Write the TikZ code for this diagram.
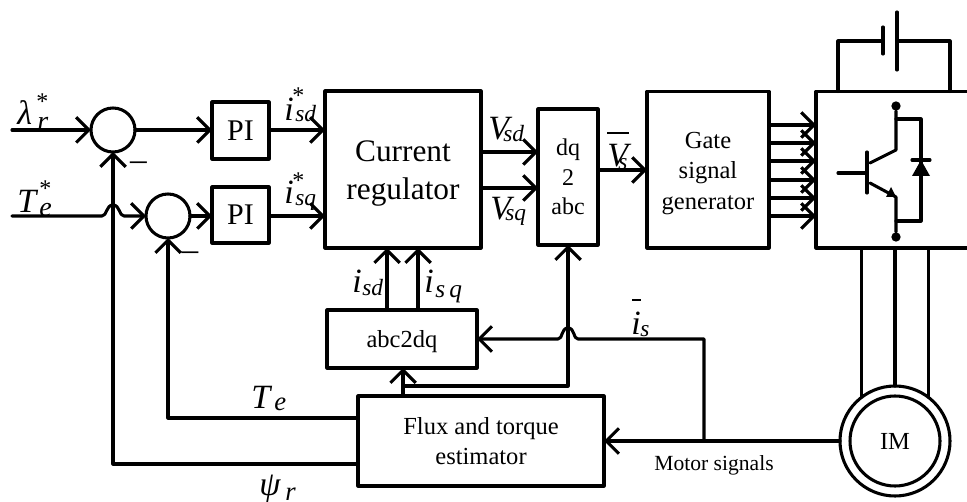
\documentclass[tikz,border=0pt]{standalone}
\usepackage{fontspec}
\setmainfont{Liberation Serif}
\usetikzlibrary{arrows.meta}
\newcommand{\fs}[2]{\fontsize{#1}{#2}\selectfont}
\tikzset{
  wire/.style={line width=2.3pt,line cap=round,line join=round},
  arr/.style={wire,-{Straight Barb[length=9.5pt,width=19pt,line width=2.3pt]}},
  blk/.style={draw,line width=2.3pt,rectangle,inner sep=0pt,outer sep=0pt,align=center,line join=round},
  sumc/.style={draw,line width=2.3pt,circle,inner sep=0pt,outer sep=0pt,minimum size=33pt},
  tlab/.style={inner sep=0pt,align=center},
  tsmall/.style={font=\fs{18.4}{21.5}},
  tbig/.style={font=\fs{23.5}{28.5}},
  tpi/.style={font=\fs{22.5}{26}},
  mainsym/.style={anchor=base west,inner sep=0pt,font=\fs{25.5}{30}\itshape},
  subsym/.style={anchor=base west,inner sep=0pt,font=\fs{17.5}{20}\itshape},
  starsym/.style={anchor=base west,inner sep=0pt,font=\fs{18}{22}},
  bar/.style={line width=1.1pt}
}
\begin{document}
\begin{tikzpicture}[x=0.75pt,y=-0.75pt]
\useasboundingbox (0,0) rectangle (967,502);
% blocks
\node[sumc] (s1) at (113,130) {};
\node[sumc] (s2) at (168,216) {};
\node[blk,tpi,minimum width=42.75pt,minimum height=42.75pt] (pi1) at (240.5,130.5) {PI};
\node[blk,tpi,minimum width=42.75pt,minimum height=42pt] (pi2) at (240.5,215) {PI};
\node[blk,minimum width=117pt,minimum height=117.75pt] (cr) at (403,169.5) {};
\node[tlab,tbig] (crt) at (403,173.5) {Current\\regulator};
\node[blk,font=\fs{18}{22},minimum width=45pt,minimum height=102pt] (dq) at (568,177) {dq\\2\\abc};
\node[blk,minimum width=91.5pt,minimum height=117.4pt] (gate) at (708,169.75) {};
\node[tlab,font=\fs{18.4}{22.9}] (gatet) at (708,173.5) {Gate\\signal\\generator};
\node[blk,minimum width=115.5pt,minimum height=117.4pt] (inv) at (893,169.75) {};
\node[blk,minimum width=112.5pt,minimum height=43.5pt] (abc) at (402,339) {};
\node[tlab,tsmall] (abct) at (402,342) {abc2dq};
\node[blk,font=\fs{18.4}{23},minimum width=184.5pt,minimum height=67.5pt] (flux) at (481,441) {Flux and torque\\estimator};
\node[draw,line width=2.3pt,circle,inner sep=0pt,outer sep=0pt,minimum size=82.5pt] (imo) at (895,441) {};
\node[draw,line width=2.3pt,circle,inner sep=0pt,outer sep=0pt,minimum size=67.5pt,tsmall] (imi) at (895,441) {IM};
% helper coordinates
\coordinate (in1) at (12,130);
\coordinate (in2) at (12,216);
\coordinate (b1a) at (102,216);
\coordinate (b1t) at (113,205);
\coordinate (b1b) at (124,216);
\coordinate (ysd) at (0,152);
\coordinate (ysq) at (0,188);
\coordinate (yvs) at (0,170);
\coordinate (ytel) at (0,418);
\coordinate (ypsi) at (0,464);
\coordinate (junc) at (704,441);
\coordinate (jtop) at (704,339);
\coordinate (b2b) at (578,339);
\coordinate (b2t) at (568,328);
\coordinate (b2a) at (558,339);
\coordinate (y3) at (0,386);
% input lines and forward path
\draw[arr] (in1) -- (s1.west);
\draw[arr] (in2) -- (b1a) .. controls +(5,0) and +(-7,0) .. (b1t) .. controls +(7,0) and +(-5,0) .. (b1b) -- (s2.west);
\draw[arr] (s1.east) -- (pi1.west |- s1.east);
\draw[arr] (s2.east) -- (pi2.west |- s2.east);
\draw[arr] (pi1.east |- s1.east) -- (cr.west |- s1.east);
\draw[arr] (pi2.east |- s2.east) -- (cr.west |- s2.east);
\draw[arr] (cr.east |- ysd) -- (dq.west |- ysd);
\draw[arr] (cr.east |- ysq) -- (dq.west |- ysq);
\draw[arr] (dq.east |- yvs) -- (gate.west |- yvs);
\foreach \y in {125,143,161,180,198,216}{
  \coordinate (gy) at (0,\y);
  \draw[arr] (gate.east |- gy) -- (inv.west |- gy);
}
% feedback
\draw[arr] (flux.west |- ypsi) -- (s1.south |- ypsi) -- (s1.south);
\draw[arr] (flux.west |- ytel) -- (s2.south |- ytel) -- (s2.south);
\coordinate (x1) at (387,0);
\coordinate (x2) at (418,0);
\draw[arr] (x1 |- abc.north) -- (x1 |- cr.south);
\draw[arr] (x2 |- abc.north) -- (x2 |- cr.south);
\coordinate (x3) at (403,0);
\draw[arr] (x3 |- flux.north) -- (x3 |- abc.south);
\draw[arr] (x3 |- y3) -- (dq.south |- y3) -- (dq.south);
\draw[arr] (imo.west) -- (flux.east |- imo.west);
\draw[arr] (junc) -- (jtop) -- (b2b) .. controls +(-5,0) and +(7,0) .. (b2t) .. controls +(-7,0) and +(5,0) .. (b2a) -- (abc.east |- b2a);
% motor feeds
\draw[wire] (imo.128 |- inv.south) -- (imo.128);
\draw[wire] (imo.90 |- inv.south) -- (imo.90);
\draw[wire] (imo.52 |- inv.south) -- (imo.52);
% battery
\coordinate (batl) at (838,0);
\coordinate (batr) at (950,0);
\coordinate (pa) at (883,41);
\coordinate (pb) at (897,41);
\draw[wire] (batl |- inv.north) -- (batl |- pa) -- (pa);
\draw[wire] (batr |- inv.north) -- (batr |- pb) -- (pb);
\coordinate (pa1) at (883,27); \coordinate (pa2) at (883,54);
\coordinate (pb1) at (897,12); \coordinate (pb2) at (897,70);
\draw[wire] (pa1) -- (pa2);
\draw[wire] (pb1) -- (pb2);
% IGBT
\node[circle,fill=black,inner sep=0pt,minimum size=7pt] (dt) at (896,106) {};
\node[circle,fill=black,inner sep=0pt,minimum size=7pt] (db) at (896,237) {};
\coordinate (c1) at (896,150);
\coordinate (c2) at (870,163);
\coordinate (e1) at (870,183);
\coordinate (e2) at (896,197);
\coordinate (g0) at (838,173);
\coordinate (g1) at (867,173);
\coordinate (bt) at (867,152);
\coordinate (bb) at (867,193);
\draw[wire] (dt) -- (c1) -- (c2);
\draw[wire] (bt) -- (bb);
\draw[wire] (g0) -- (g1);
\draw[wire] (e1) -- (e2) -- (db);
\fill (896,197) -- (886,197) -- (891,187) -- cycle;
\coordinate (la) at (896,119);
\coordinate (lb) at (921,119);
\coordinate (lc) at (921,221);
\coordinate (ld) at (896,221);
\draw[wire] (la) -- (lb) -- (lc) -- (ld);
\fill (921,160) -- (912,176) -- (930,176) -- cycle;
\coordinate (dl) at (912,160); \coordinate (dr) at (930,160);
\draw[wire] (dl) -- (dr);
% labels
\node[mainsym] (lam) at (17,125) {λ};
\node[subsym,font=\fs{21}{24}\itshape] (lamr) at (37,131) {r};
\node[starsym] (lams) at (36,109.5) {*};
\node[mainsym] (tes) at (17,213) {T};
\node[subsym,font=\fs{21}{24}\itshape] (tese) at (39,217) {e};
\node[starsym] (test) at (39,196.5) {*};
\node[mainsym] (i1) at (284,121) {i};
\node[subsym] (i1s) at (295,122) {sd};
\node[starsym] (i1t) at (292,103.5) {*};
\node[mainsym] (i2) at (284,204) {i};
\node[subsym] (i2s) at (295,206) {sq};
\node[starsym] (i2t) at (292,188.5) {*};
\node[mainsym] (v1) at (488,140) {V};
\node[subsym] (v1s) at (503,142) {sd};
\node[mainsym] (v2) at (490,220) {V};
\node[subsym] (v2s) at (505,221) {sq};
\node[mainsym] (v3) at (607,167) {V};
\node[subsym] (v3s) at (618,170) {s};
\coordinate (vb1) at (607,133); \coordinate (vb2) at (629,133);
\draw[bar] (vb1) -- (vb2);
\node[mainsym] (i3) at (352,292) {i};
\node[subsym] (i3s) at (362,296) {sd};
\node[mainsym] (i4) at (424,292) {i};
\node[subsym,font=\fs{19}{22}\itshape] (i4s) at (435,297) {s\,q};
\node[mainsym] (i5) at (631,334) {i};
\node[subsym] (i5s) at (640,336) {s};
\coordinate (ib1) at (632,300); \coordinate (ib2) at (641,300);
\draw[bar] (ib1) -- (ib2);
\node[mainsym] (te) at (251,408) {T};
\node[subsym,font=\fs{20}{23}\itshape] (tee) at (274,410) {e};
\node[mainsym] (psi) at (259,495) {ψ};
\node[subsym,font=\fs{20}{23}\itshape] (psir) at (285,500.5) {r};
\node[inner sep=0pt,font=\fs{16.2}{19}] (ms) at (714,465) {Motor signals};
\node[inner sep=0pt,font=\fs{25}{25}] (m1) at (138.5,166) {–};
\node[inner sep=0pt,font=\fs{25}{25}] (m2) at (190,256) {–};
\end{tikzpicture}
\end{document}
